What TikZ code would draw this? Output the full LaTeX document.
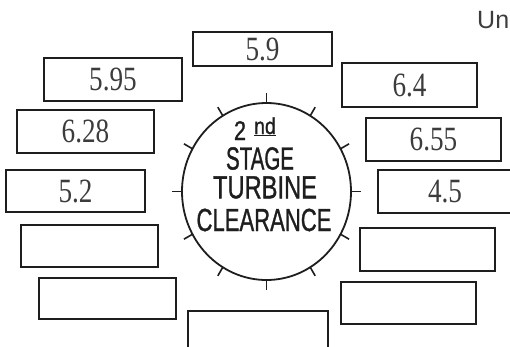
\documentclass[tikz,border=0pt]{standalone}
\usepackage{fontspec}
\setmainfont{Liberation Serif}
\newfontfamily\numfont[FakeStretch=0.8]{Liberation Serif}
\newfontfamily\hfont[FakeBold=1.2]{Liberation Sans}
\newfontfamily\unfont{Liberation Sans}
\usetikzlibrary{shapes.geometric,calc}
\definecolor{ink}{HTML}{1E1E1E}
\definecolor{numgray}{HTML}{3C3C3C}
\begin{document}
\begin{tikzpicture}[x=1pt,y=-1pt,
  valbox/.style 2 args={draw=ink, line width=1.3pt, rectangle, inner sep=0pt,
    minimum width=#1, minimum height=#2,
    font=\numfont\fontsize{34}{34}\selectfont, text=numgray},
  ringtext/.style={inner sep=0pt, text=ink, font=\hfont\fontsize{32}{32}\selectfont},
  tick/.style={draw=ink, line width=1.6pt}]
\useasboundingbox (0,0) rectangle (510,346);
\clip (0,0) rectangle (510,346);
% value boxes
\node[valbox={139}{34}] (top) at (262.5,49) {5.9};
\node[valbox={138}{43}] (l1) at (113,79.5) {5.95};
\node[valbox={137}{43}] (l2) at (85.5,131.5) {6.28};
\node[valbox={139}{42}] (l3) at (75.5,191) {5.2};
\node[valbox={137}{42}] (l4) at (89.5,246) {};
\node[valbox={137}{41}] (l5) at (107.5,298.5) {};
\node[valbox={135}{44}] (r1) at (409.5,85) {6.4};
\node[valbox={135}{43}] (r2) at (433.5,139.5) {6.55};
\node[valbox={134}{43}] (r3) at (445,191.5) {4.5};
\node[valbox={135}{43}] (r4) at (427.5,249.5) {};
\node[valbox={135}{42}] (r5) at (408.5,303) {};
\node[valbox={140}{38}] (bot) at (258,330) {};
% ring
\node[draw=ink, line width=1.8pt, ellipse, inner sep=0pt, minimum width=169, minimum height=177] (c) at (266.5,191.5) {};
\foreach \a in {0,30,...,330}
  \draw[tick] ($(c.\a)!1.5pt!(c.center)$) -- ($(c.\a)!-9pt!(c.center)$);
% ring text
\node[inner sep=0pt, text=ink, font=\hfont\fontsize{27}{27}\selectfont, anchor=base] (two) at (240,140) {\scalebox{0.8}[1]{2}};
\node[inner sep=0pt, text=ink, font=\hfont\fontsize{23}{23}\selectfont, anchor=base] (nd) at (265,134) {\underline{\scalebox{0.85}[1]{nd}}};
\node[ringtext] (t1) at (260,158.5) {\scalebox{0.64}[1]{STAGE}};
\node[ringtext] (t2) at (265,187.5) {\scalebox{0.74}[1]{TURBINE}};
\node[ringtext] (t3) at (264,220) {\scalebox{0.69}[1]{CLEARANCE}};
% corner text
\node[inner sep=0pt, anchor=base west, text=numgray, font=\unfont\fontsize{25}{25}\selectfont] (un) at (477,28) {Un};
\end{tikzpicture}
\end{document}
